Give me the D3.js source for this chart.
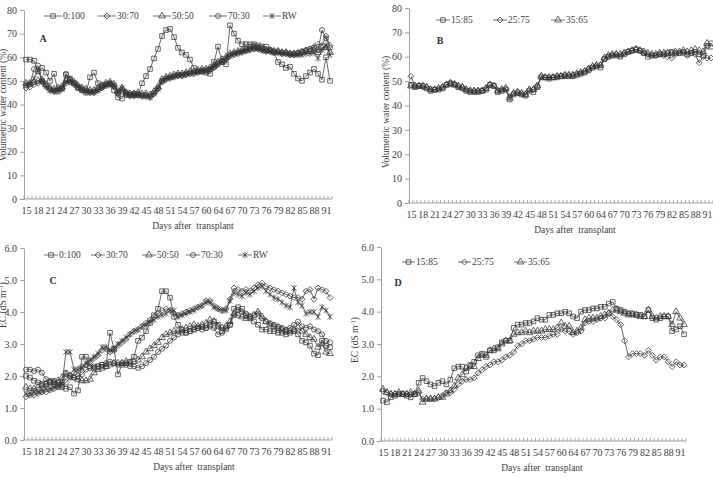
<!DOCTYPE html>
<html>
<head>
<meta charset="utf-8">
<script src="https://cdn.jsdelivr.net/npm/d3@7"></script>
<style>
  body { margin: 0; background: #fff; }
  svg { display: block; font-family: "Liberation Serif", "Times New Roman", serif; }
  .xtitle { white-space: pre; }
</style>
</head>
<body>
<svg id="chart" width="713" height="478"></svg>
<script>
// categories (day 62 is not in the record)
const days = [15, 16, 17, 18, 19, 20, 21, 22, 23, 24, 25, 26, 27, 28, 29, 30, 31, 32, 33, 34,
  35, 36, 37, 38, 39, 40, 41, 42, 43, 44, 45, 46, 47, 48, 49, 50, 51, 52, 53, 54,
  55, 56, 57, 58, 59, 60, 61, 63, 64, 65, 66, 67, 68, 69, 70, 71, 72, 73, 74, 75,
  76, 77, 78, 79, 80, 81, 82, 83, 84, 85, 86, 87, 88, 89, 90, 91, 92];
const dayTicks = [15, 18, 21, 24, 27, 30, 33, 36, 39, 42, 45, 48, 51, 54, 57, 60, 64, 67, 70, 73, 76, 79, 82, 85, 88, 91];
const wcTicks = [0, 10, 20, 30, 40, 50, 60, 70, 80];
const ecTicks = [0, 1, 2, 3, 4, 5, 6];

const groupA = ['0:100', '30:70', '50:50', '70:30', 'RW'];
const groupB = ['15:85', '25:75', '35:65'];

// A - volumetric water content (%)
const vwcA_0_100 = [59, 59, 58.5, 54, 55.5, 53.5, 50, 53, 45.5, 47,
  52.5, 51, 49, 47, 46, 45, 51.5, 53.5, 49, 48,
  48.5, 48.5, 46, 43, 42.5, 45, 44, 44.5, 44, 49,
  52, 55, 59.5, 63.5, 69, 71.5, 72, 68.5, 64, 62,
  61, 59, 55.5, 54, 54, 53.5, 53, 58, 64.5, 58,
  57, 73.5, 70, 67, 65.5, 65.5, 65.5, 65.5, 65, 64.5,
  64.5, 63, 62, 58, 57, 55.5, 56, 53, 51, 50,
  52, 53.5, 55, 53, 50.5, 60, 50];
const vwcA_30_70 = [47, 47.5, 48.5, 49, 49.5, 48, 46, 45.5, 46, 46.5,
  49, 49.5, 48.5, 47, 46, 45.5, 45, 45, 46, 47,
  48, 48.5, 47.5, 44.5, 46, 44, 43.5, 43.5, 44, 43.5,
  43.5, 43, 44.5, 46.5, 49.5, 50.5, 51, 51.5, 52, 52,
  52.5, 53, 53, 53.5, 54, 54, 54.5, 55.5, 57, 58,
  59, 60.5, 61, 61.5, 62, 62.5, 63, 63.5, 63.5, 63,
  62.5, 62.5, 62, 62, 61.5, 61.5, 61, 61, 61.5, 62,
  63, 63.5, 64.5, 65.5, 65, 69, 65];
const vwcA_50_50 = [49, 49, 49.5, 50, 50.5, 48.5, 47, 46.5, 47, 47.5,
  50, 50.5, 49.5, 48, 47, 46.5, 46, 46, 47, 48,
  49, 49.5, 48.5, 45.5, 47, 45, 44.5, 44.5, 45, 44.5,
  44.5, 44, 45.5, 47.5, 50.5, 51.5, 52, 52.5, 53, 53,
  53.5, 54, 54, 54.5, 55, 55, 55.5, 56.5, 58, 59,
  60, 61.5, 62, 62.5, 63, 63.5, 64, 64.5, 64, 63.5,
  63, 63, 62.5, 62.5, 62, 62, 61.5, 61.5, 61.5, 62,
  62.5, 62.5, 63, 62, 64, 64, 62];
const vwcA_70_30 = [48, 48.5, 55, 56.5, 50, 48, 46.5, 46, 46.5, 47,
  53, 50.5, 49, 47.5, 46.5, 46, 45.5, 45.5, 46.5, 47.5,
  48.5, 49, 48, 45, 46.5, 44.5, 44, 44, 44.5, 44,
  44, 43.5, 45, 47, 50, 51, 51.5, 52, 52.5, 52.5,
  53, 53.5, 53.5, 54, 54.5, 54.5, 55, 56, 57.5, 58.5,
  59.5, 61, 61.5, 62, 62.5, 63, 63.5, 64, 64, 63.5,
  63, 63, 62.5, 62.5, 62, 62, 61.5, 61.5, 62, 62.5,
  63, 63.5, 64, 63, 71.5, 68, 64];
const vwcA_RW = [48.5, 49, 51, 54.5, 50, 47.5, 46, 45.5, 46, 46.5,
  49.5, 50, 49, 47.5, 46.5, 45.5, 45, 45, 46, 47,
  48, 49, 48, 45, 47, 44.5, 44, 44, 44, 43.5,
  43.5, 43, 44.5, 46.5, 50, 51, 51.5, 52, 52.5, 52.5,
  53, 53, 53.5, 54, 54, 54.5, 55, 56, 57, 58,
  59.5, 60.5, 61.5, 62, 62.5, 63, 63.5, 64, 63.5, 63,
  62.5, 62.5, 62, 62, 61.5, 61.5, 61, 61, 61, 61,
  61.5, 61.5, 62, 59.5, 63, 65, 61];

// B - volumetric water content (%)
const vwcB_15_85 = [48.5, 47.5, 48, 48, 47, 46, 46.5, 46.5, 47, 48.5,
  49, 48.5, 47.5, 47, 46, 45.5, 45.5, 45.5, 46, 46.5,
  48.5, 48, 45.5, 46, 46.5, 42.5, 44.5, 45, 44.5, 44,
  46, 45.5, 47.5, 51.5, 51.5, 51, 51.5, 51.5, 52, 52,
  52, 52, 52.5, 53, 53.5, 54.5, 55.5, 56, 55.5, 59,
  60, 60.5, 60.5, 60, 61, 62, 62.5, 63, 62.5, 61.5,
  60, 60.5, 60.5, 61, 61, 61.5, 62, 61.5, 61.5, 62,
  61, 61.5, 62, 61, 60.5, 64.5, 65.5];
const vwcB_25_75 = [52, 48, 48, 47.5, 47.5, 46.5, 46.5, 47, 47.5, 48.5,
  49.5, 49, 48, 47.5, 46.5, 46, 46, 46, 46, 47,
  48.5, 48, 46, 46.5, 47, 43.5, 45, 45.5, 45, 44.5,
  46.5, 46.5, 48, 52, 51.5, 51.5, 51.5, 52, 52, 52.5,
  52.5, 52.5, 53, 53.5, 54, 55, 56, 56.5, 56.5, 59,
  60, 60.5, 61, 60.5, 61.5, 62, 62.5, 63, 62.5, 61.5,
  61, 60.5, 60.5, 61, 60.5, 60, 59.5, 61, 61.5, 61.5,
  60.5, 61.5, 61, 57.5, 60, 59.5, 59.5];
const vwcB_35_65 = [48, 48, 48, 48, 47.5, 46.5, 46.5, 47, 47.5, 48.5,
  49, 48.5, 48, 47.5, 46.5, 46, 46, 46, 46, 47,
  48.5, 48, 46, 46.5, 47, 43, 45, 45.5, 45, 44.5,
  46.5, 46.5, 48, 52, 51.5, 51.5, 51.5, 52, 52, 52.5,
  52.5, 52.5, 53, 53.5, 54, 55, 56, 56.5, 56.5, 59.5,
  60.5, 61, 61, 61, 61.5, 62, 62.5, 63, 62.5, 62,
  61.5, 61, 61, 61.5, 61.5, 61.5, 61.5, 62, 62, 62.5,
  62, 62.5, 63, 62.5, 62, 65.5, 64];

// C - EC (dS m-1)
const ecC_0_100 = [2.0, 1.95, 1.85, 1.8, 1.75, 1.75, 1.8, 1.75, 1.7, 1.65,
  1.6, 1.65, 1.45, 1.55, 2.6, 2.6, 2.3, 2.25, 2.3, 2.35,
  2.3, 3.35, 2.85, 2.05, 2.35, 2.4, 2.45, 2.6, 3.1, 3.2,
  3.4, 3.65, 3.9, 4.1, 4.65, 4.65, 4.45, 3.85, 3.6, 3.45,
  3.35, 3.4, 3.45, 3.5, 3.55, 3.5, 3.6, 3.7, 3.6, 3.4,
  3.5, 3.6, 4.1, 4.15, 4.1, 3.9, 3.8, 3.7, 3.6, 3.45,
  3.45, 3.4, 3.4, 3.35, 3.35, 3.3, 3.35, 3.4, 3.3, 3.1,
  3.05, 2.95, 2.7, 2.65, 3.1, 2.95, 2.9];
const ecC_30_70 = [1.35, 1.4, 1.4, 1.45, 1.5, 1.5, 1.55, 1.6, 1.65, 1.7,
  1.8, 1.95, 2.1, 2.2, 2.3, 2.35, 2.45, 2.55, 2.65, 2.8,
  2.85, 2.75, 2.8, 2.95, 3.05, 3.15, 3.3, 3.4, 3.45, 3.55,
  3.65, 3.75, 3.85, 3.95, 4.05, 4.1, 4.05, 3.95, 3.9, 3.95,
  4.0, 4.05, 4.1, 4.15, 4.2, 4.35, 4.35, 4.2, 4.1, 4.05,
  4.1, 4.4, 4.75, 4.7, 4.65, 4.7, 4.65, 4.75, 4.85, 4.9,
  4.8, 4.75, 4.7, 4.65, 4.6, 4.55, 4.5, 4.45, 4.45, 4.4,
  4.65, 4.7, 4.4, 4.75, 4.7, 4.65, 4.45];
const ecC_50_50 = [1.65, 1.6, 1.6, 1.65, 1.7, 1.75, 1.8, 1.8, 1.85, 1.95,
  2.05, 2.0, 1.95, 1.9, 1.85, 1.85, 1.9, 2.1, 2.2, 2.25,
  2.3, 2.35, 2.4, 2.4, 2.4, 2.45, 2.4, 2.45, 2.5, 2.6,
  2.75, 2.85, 2.95, 3.05, 3.2, 3.3, 3.35, 3.4, 3.4, 3.45,
  3.5, 3.55, 3.6, 3.55, 3.6, 3.65, 3.75, 3.7, 3.55, 3.5,
  3.55, 3.7, 3.95, 3.9, 3.85, 3.8, 3.85, 3.9, 4.0, 3.85,
  3.7, 3.6, 3.55, 3.5, 3.45, 3.4, 3.4, 3.45, 3.5, 3.4,
  3.3, 3.2, 3.15, 2.9, 3.0, 2.75, 2.7];
const ecC_70_30 = [2.2, 2.2, 2.15, 2.2, 2.1, 1.9, 1.85, 1.85, 1.8, 1.8,
  2.1, 2.0, 1.95, 2.0, 2.05, 2.2, 2.25, 2.3, 2.3, 2.35,
  2.4, 2.45, 2.4, 2.35, 2.4, 2.35, 2.3, 2.3, 2.25, 2.3,
  2.4, 2.5, 2.6, 2.75, 2.85, 2.95, 3.1, 3.2, 3.3, 3.35,
  3.35, 3.4, 3.45, 3.5, 3.45, 3.5, 3.55, 3.5, 3.3, 3.35,
  3.45, 3.6, 3.9, 4.05, 4.0, 3.95, 3.85, 3.9, 3.95, 3.8,
  3.7, 3.65, 3.6, 3.55, 3.5, 3.45, 3.5, 3.6, 3.7, 3.55,
  3.5, 3.55, 3.45, 3.4, 3.3, 3.1, 3.05];
const ecC_RW = [1.45, 1.45, 1.5, 1.5, 1.55, 1.6, 1.6, 1.65, 1.7, 1.75,
  2.75, 2.75, 2.2, 2.2, 2.25, 2.4, 2.5, 2.6, 2.7, 2.9,
  2.9, 2.8, 2.85, 3.0, 3.1, 3.2, 3.3, 3.4, 3.45, 3.55,
  3.6, 3.7, 3.75, 3.85, 3.9, 3.95, 4.05, 4.05, 3.85, 3.9,
  3.95, 4.0, 4.05, 4.15, 4.2, 4.3, 4.3, 4.15, 4.1, 4.05,
  4.05, 4.35, 4.6, 4.55, 4.5, 4.6, 4.55, 4.65, 4.75, 4.8,
  4.65, 4.55, 4.45, 4.4, 4.3, 4.2, 4.15, 4.75, 4.3, 4.2,
  3.95, 4.0, 4.0, 3.85, 4.15, 4.05, 3.85];

// D - EC (dS m-1)
const ecD_15_85 = [1.25, 1.2, 1.35, 1.4, 1.45, 1.45, 1.4, 1.35, 1.45, 1.8,
  1.95, 1.85, 1.75, 1.7, 1.8, 1.85, 1.75, 1.9, 2.25, 2.3,
  2.3, 2.15, 2.35, 2.45, 2.65, 2.7, 2.6, 2.8, 2.8, 2.9,
  3.05, 3.1, 3.1, 3.5, 3.6, 3.6, 3.65, 3.65, 3.7, 3.8,
  3.75, 3.75, 3.9, 3.9, 3.95, 3.95, 4.0, 3.95, 3.85, 3.8,
  4.0, 4.05, 4.05, 4.1, 4.1, 4.15, 4.15, 4.25, 4.3, 4.1,
  4.05, 4.0, 3.95, 3.95, 3.9, 3.9, 3.85, 4.05, 3.8, 3.75,
  3.8, 3.85, 3.85, 3.4, 3.45, 3.55, 3.3];
const ecD_25_75 = [1.55, 1.5, 1.45, 1.45, 1.45, 1.45, 1.45, 1.45, 1.45, 1.5,
  1.3, 1.3, 1.3, 1.3, 1.35, 1.4, 1.5, 1.5, 1.6, 1.75,
  1.85, 1.9, 1.9, 1.95, 2.1, 2.2, 2.3, 2.35, 2.45, 2.45,
  2.5, 2.6, 2.65, 2.75, 2.95, 3.0, 3.1, 3.1, 3.15, 3.2,
  3.2, 3.2, 3.25, 3.3, 3.3, 3.45, 3.4, 3.4, 3.3, 3.35,
  3.4, 3.65, 3.7, 3.7, 3.75, 3.8, 3.8, 3.95, 3.85, 3.75,
  3.6, 3.1, 2.6, 2.7, 2.7, 2.7, 2.65, 2.8, 2.65, 2.5,
  2.6, 2.6, 2.45, 2.3, 2.45, 2.35, 2.35];
const ecD_35_65 = [1.6, 1.5, 1.45, 1.45, 1.5, 1.45, 1.45, 1.5, 1.45, 1.55,
  1.2, 1.3, 1.3, 1.3, 1.35, 1.35, 1.45, 1.55, 1.7, 1.95,
  2.05, 2.25, 2.3, 2.3, 2.55, 2.65, 2.65, 2.8, 2.85, 2.85,
  3.0, 3.1, 3.1, 3.3, 3.35, 3.35, 3.4, 3.35, 3.4, 3.4,
  3.4, 3.45, 3.45, 3.45, 3.5, 3.65, 3.55, 3.55, 3.35, 3.4,
  3.5, 3.75, 3.8, 3.8, 3.8, 3.85, 3.9, 3.95, 4.05, 4.05,
  4.0, 3.95, 3.9, 3.9, 3.9, 3.85, 3.85, 4.05, 3.85, 3.8,
  3.85, 3.85, 3.85, 3.6, 4.0, 3.8, 3.6];

const ink = '#353535';
const axisGrey = '#8a8a8a';
const shapesA = ['square', 'diamond', 'triangle', 'circle', 'asterisk'];
const shapesB = ['square', 'diamond', 'triangle'];

const markerPath = {
  square: d3.symbol(d3.symbolSquare, 21)(),
  diamond: 'M0,-3L3,0L0,3L-3,0Z',
  triangle: d3.symbol(d3.symbolTriangle, 20)(),
  circle: d3.symbol(d3.symbolCircle, 20)(),
  asterisk: 'M-2.6,-2.6L2.6,2.6M-2.6,2.6L2.6,-2.6M0,-3.2L0,3.2'
};

const panels = [
  {
    letter: 'A', names: groupA, shapes: shapesA,
    series: [vwcA_0_100, vwcA_30_70, vwcA_50_50, vwcA_70_30, vwcA_RW],
    yTicks: wcTicks, yFormat: d3.format('d'), yTitle: 'wc',
    left: 24, right: 332, top: 10, bottom: 199,
    yTitleX: 6, yTitleY: 105, xTitleX: 193,
    legendY: 16, legendText: [63, 117, 172, 228, 282], legendLine: 18,
    letterX: 43, letterY: 38
  },
  {
    letter: 'B', names: groupB, shapes: shapesB,
    series: [vwcB_15_85, vwcB_25_75, vwcB_35_65],
    yTicks: wcTicks, yFormat: d3.format('d'), yTitle: 'wc',
    left: 409, right: 713, top: 8, bottom: 203,
    yTitleX: 389, yTitleY: 112, xTitleX: 575,
    legendY: 20, legendText: [451, 508, 566], legendLine: 14,
    letterX: 440, letterY: 40
  },
  {
    letter: 'C', names: groupA, shapes: shapesA,
    series: [ecC_0_100, ecC_30_70, ecC_50_50, ecC_70_30, ecC_RW],
    yTicks: ecTicks, yFormat: d3.format('.1f'), yTitle: 'ec',
    left: 24, right: 332, top: 248, bottom: 440,
    yTitleX: 6, yTitleY: 305, xTitleX: 194,
    legendY: 255, legendText: [59, 106, 157, 201, 253], legendLine: 14,
    letterX: 53, letterY: 280
  },
  {
    letter: 'D', names: groupB, shapes: shapesB,
    series: [ecD_15_85, ecD_25_75, ecD_35_65],
    yTicks: ecTicks, yFormat: d3.format('.1f'), yTitle: 'ec',
    left: 381, right: 686, top: 247, bottom: 441,
    yTitleX: 358, yTitleY: 340, xTitleX: 542,
    legendY: 262, legendText: [416, 472, 528], legendLine: 13,
    letterX: 398, letterY: 282
  }
];

/**
 * Draw one hollow marker
 * @param {Object} sel selection to append into
 * @param {String} shape marker name
 */
function appendMarker(sel, shape) {
  return sel.append('path')
    .attr('d', markerPath[shape])
    .attr('fill', 'none')
    .attr('stroke', ink)
    .attr('stroke-width', 0.75);
}

/**
 * Draw a whole panel: axes, series, legend and titles
 * @param {Object} svg root selection
 * @param {Object} p panel description
 */
function drawPanel(svg, p) {
  const g = svg.append('g').attr('class', `panel-${p.letter}`);
  const yMax = p.yTicks[p.yTicks.length - 1];

  const x = d3.scalePoint().domain(days).range([p.left, p.right]).padding(0.5);
  const y = d3.scaleLinear().domain([0, yMax]).range([p.bottom, p.top]);
  const step = x.step();

  // y axis
  const yAxis = g.append('g')
    .attr('transform', `translate(${p.left},0)`)
    .call(d3.axisLeft(y).tickValues(p.yTicks).tickFormat(p.yFormat).tickSize(4).tickSizeOuter(0).tickPadding(3));

  // x axis
  const xAxis = g.append('g')
    .attr('transform', `translate(0,${p.bottom})`)
    .call(d3.axisBottom(x).tickValues(dayTicks).tickSize(0).tickSizeOuter(0).tickPadding(8));
  xAxis.select('.domain').attr('d', `M${p.left},0H${p.right}`);

  // small category marks along the x axis
  g.append('g')
    .selectAll('line')
    .data(days.concat([null]))
    .join('line')
    .attr('x1', (d, i) => p.left + i * step)
    .attr('x2', (d, i) => p.left + i * step)
    .attr('y1', p.bottom)
    .attr('y2', p.bottom - 3)
    .attr('stroke', axisGrey)
    .attr('stroke-width', 0.7);

  [yAxis, xAxis].forEach(ax => {
    ax.select('.domain').attr('stroke', axisGrey).attr('stroke-width', 0.8);
    ax.selectAll('.tick line').attr('stroke', axisGrey).attr('stroke-width', 0.8);
    ax.selectAll('.tick text')
      .attr('fill', '#404040')
      .style('font-size', '10px')
      .style('font-family', '"Liberation Serif", serif');
  });

  // series
  const line = d3.line().x((d, i) => x(days[i])).y(d => y(d));
  p.series.forEach((values, k) => {
    const s = g.append('g').attr('class', 'series');
    s.append('path')
      .attr('d', line(values))
      .attr('fill', 'none')
      .attr('stroke', ink)
      .attr('stroke-width', 0.75);
    s.selectAll('g.mk')
      .data(values)
      .join('g')
      .attr('class', 'mk')
      .attr('transform', (d, i) => `translate(${x(days[i])},${y(d)})`)
      .each(function () { appendMarker(d3.select(this), p.shapes[k]); });
  });

  // legend
  p.names.forEach((name, k) => {
    const tx = p.legendText[k];
    const lg = g.append('g').attr('class', 'legend-item');
    lg.append('line')
      .attr('x1', tx - 1 - p.legendLine).attr('x2', tx - 1)
      .attr('y1', p.legendY).attr('y2', p.legendY)
      .attr('stroke', ink).attr('stroke-width', 0.7);
    appendMarker(lg.append('g').attr('transform', `translate(${tx - 1 - p.legendLine / 2},${p.legendY})`), p.shapes[k]);
    lg.append('text')
      .attr('x', tx).attr('y', p.legendY)
      .attr('dy', '0.35em')
      .attr('fill', '#404040')
      .style('font-size', '9.5px')
      .text(name);
  });

  // panel letter
  g.append('text')
    .attr('x', p.letterX).attr('y', p.letterY)
    .attr('dy', '0.35em')
    .attr('text-anchor', 'middle')
    .attr('fill', '#303030')
    .style('font-size', '10px')
    .style('font-weight', 'bold')
    .text(p.letter);

  // axis titles
  g.append('text')
    .attr('class', 'xtitle')
    .attr('x', p.xTitleX).attr('y', p.bottom + 30)
    .attr('text-anchor', 'middle')
    .attr('fill', '#404040')
    .style('font-size', '9.5px')
    .text('Days after  transplant');

  const yt = g.append('text')
    .attr('transform', `translate(${p.yTitleX},${p.yTitleY}) rotate(-90)`)
    .attr('text-anchor', 'middle')
    .attr('fill', '#404040')
    .style('font-size', '9.5px');
  if (p.yTitle === 'wc') {
    yt.text('Volumetric water content (%)');
  } else {
    yt.append('tspan').text('EC (dS m');
    yt.append('tspan').attr('dy', -3).style('font-size', '6.5px').text('-1');
    yt.append('tspan').attr('dy', 3).text(')');
  }
}

const svg = d3.select('#chart');
panels.forEach(p => drawPanel(svg, p));
</script>
</body>
</html>
